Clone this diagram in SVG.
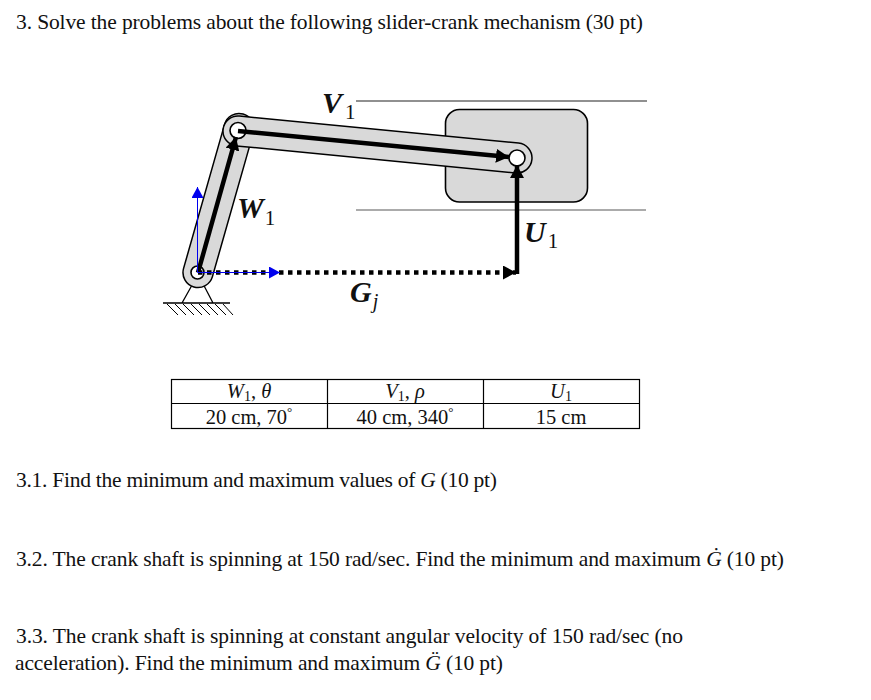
<svg xmlns="http://www.w3.org/2000/svg" width="871" height="700" viewBox="0 0 871 700">
<style>
text{font-family:"Liberation Serif","DejaVu Serif",serif;fill:#111}
.p{font-size:21.500px}
.i{font-style:italic}
.c{font-size:20.500px;text-anchor:middle}
.l{font-size:30px;font-weight:bold;font-style:italic}
.s{font-size:21px}
.rail{stroke:#222;stroke-width:1.2;fill:none}
.g{stroke:#000;stroke-width:1.3;fill:none}
.vec{stroke:#000;stroke-width:4.500;fill:none}
.tb{stroke:#000;stroke-width:1.2;fill:none}
</style>
<defs>
<marker id="k" markerUnits="userSpaceOnUse" markerWidth="14" markerHeight="14" refX="13" refY="7" orient="auto"><path d="M0 0L13 7L0 14Z" fill="#000"/></marker>
<marker id="b" markerUnits="userSpaceOnUse" markerWidth="12" markerHeight="14" refX="11" refY="6" orient="auto"><path d="M0 0L11 6L0 12Z" fill="#0000ee"/></marker>
</defs>
<g id="title"><text class="p" x="16" y="29" textLength="627">3. Solve the problems about the following slider-crank mechanism (30 pt)</text></g>
<g id="rails"><line class="rail" x1="356" y1="101" x2="647" y2="101"/><line class="rail" x1="356" y1="210" x2="646" y2="210" stroke-opacity=".75"/></g>
<g id="ground" class="g"><path d="M163 303H230M182 303L196 278M213 303L200 278"/><path d="M167 304l11 11M175 304l11 11M183 304l11 11M191 304l11 11M199 304l11 11M207 304l11 11M215 304l11 11M223 304l10 11" stroke-width="1"/></g>
<g id="slider"><rect x="445.500" y="109.500" width="142" height="92.500" rx="14" fill="#d9d9d9" stroke="#000" stroke-width="1.600"/></g>
<g id="crank"><line x1="198" y1="272.500" x2="239" y2="128.500" stroke="#000" stroke-width="31.500" stroke-linecap="round"/><line x1="198" y1="272.500" x2="239" y2="128.500" stroke="#d9d9d9" stroke-width="28.500" stroke-linecap="round"/></g>
<g id="rod"><line x1="238" y1="131" x2="517" y2="158" stroke="#000" stroke-width="31.500" stroke-linecap="round"/><line x1="238" y1="131" x2="517" y2="158" stroke="#d9d9d9" stroke-width="28.500" stroke-linecap="round"/></g>
<g id="pins" fill="#fff" stroke="#000" stroke-width="1.600"><circle cx="197.500" cy="272.500" r="6.500"/><circle cx="238" cy="130.500" r="8"/><circle cx="517" cy="158" r="8"/></g>
<g id="connectors">
<line class="vec" x1="198" y1="272.500" x2="236" y2="137" marker-end="url(#k)"/>
<line class="vec" x1="238" y1="131" x2="509" y2="157" marker-end="url(#k)"/>
<line class="vec" x1="517" y1="274" x2="517" y2="165" marker-end="url(#k)"/>
<line class="vec" x1="198" y1="272.500" x2="516" y2="272.500" stroke-dasharray="4.500 4.500" marker-end="url(#k)"/>
<line x1="197.500" y1="272.500" x2="197.500" y2="187" stroke="#0000ee" stroke-width="1" marker-end="url(#b)"/>
<line x1="198" y1="272.500" x2="280" y2="272.500" stroke="#0000ee" stroke-width="1" marker-end="url(#b)"/>
</g>
<g id="labels">
<text x="322" y="113"><tspan class="l">V</tspan><tspan class="s" dx="3" dy="6">1</tspan></text>
<text x="237" y="218"><tspan class="l">W</tspan><tspan class="s" dx="1" dy="7">1</tspan></text>
<text x="524" y="242"><tspan class="l">U</tspan><tspan class="s" dx="2" dy="6">1</tspan></text>
<text x="350" y="302"><tspan class="l">G</tspan><tspan font-size="20" font-style="italic" dx="1" dy="6">j</tspan></text>
</g>
<g id="table">
<rect class="tb" x="171.500" y="379.500" width="468" height="49"/>
<path class="tb" d="M171.500 403.500H639.500M327.500 379.500V428.500M483.500 379.500V428.500"/>
<text class="c" x="249" y="398"><tspan class="i">W</tspan><tspan font-size="14" dy="3">1</tspan><tspan dy="-3">, </tspan><tspan class="i">θ</tspan></text>
<text class="c" x="405" y="398"><tspan class="i">V</tspan><tspan font-size="14" dy="3">1</tspan><tspan dy="-3">, </tspan><tspan class="i">ρ</tspan></text>
<text class="c" x="561" y="398"><tspan class="i">U</tspan><tspan font-size="14" dy="3">1</tspan></text>
<text class="c" x="249" y="424">20 cm, 70<tspan font-size="13" dy="-8">°</tspan></text>
<text class="c" x="405" y="424">40 cm, 340<tspan font-size="13" dy="-8">°</tspan></text>
<text class="c" x="561" y="424">15 cm</text>
</g>
<g id="questions">
<text class="p" x="16" y="487" textLength="481">3.1. Find the minimum and maximum values of <tspan class="i">G</tspan> (10 pt)</text>
<text class="p" x="16" y="566" textLength="768">3.2. The crank shaft is spinning at 150 rad/sec. Find the minimum and maximum <tspan class="i">Ġ</tspan> (10 pt)</text>
<text class="p" x="16" y="643" textLength="667">3.3. The crank shaft is spinning at constant angular velocity of 150 rad/sec (no</text>
<text class="p" x="15" y="670" textLength="488">acceleration). Find the minimum and maximum <tspan class="i">G̈</tspan> (10 pt)</text>
</g>
</svg>
